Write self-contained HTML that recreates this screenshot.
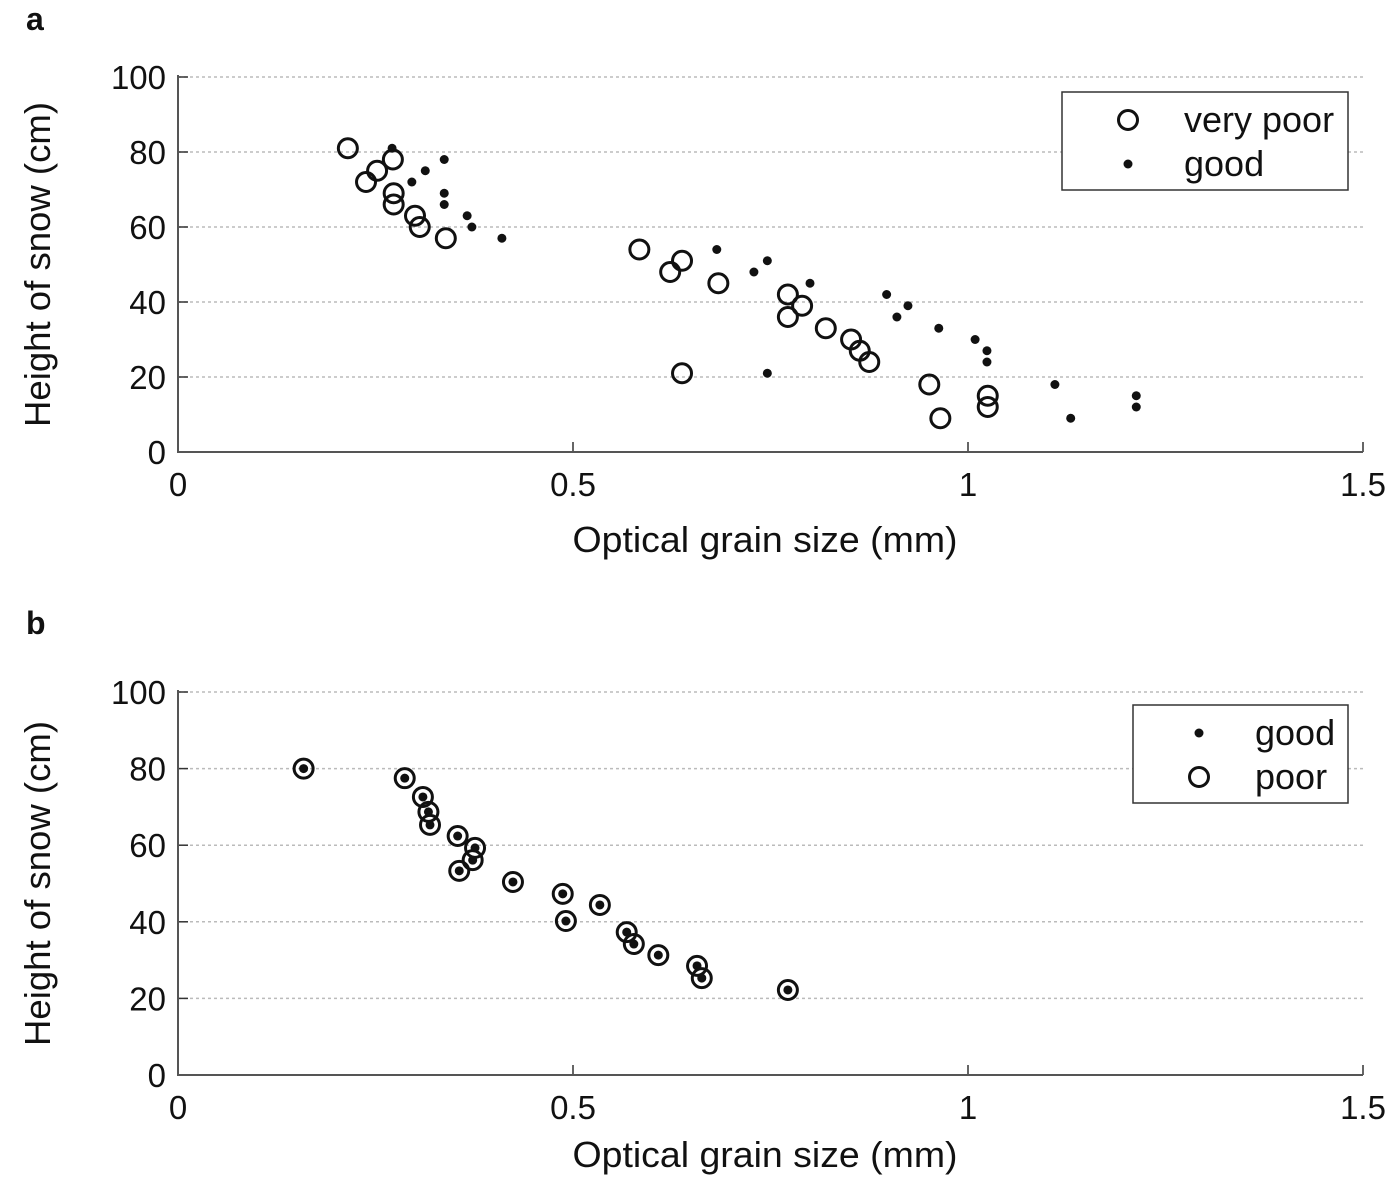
<!DOCTYPE html>
<html><head><meta charset="utf-8"><style>
body{margin:0;background:#fff;}
svg text{font-family:"Liberation Sans",sans-serif;fill:#111;}
</style></head><body>
<svg id="chart" width="1400" height="1183" viewBox="0 0 1400 1183" xmlns="http://www.w3.org/2000/svg"></svg>
<script>
const xTicks=[0,0.5,1,1.5];
const xTickLabels=["0","0.5","1","1.5"];
const yTicks=[0,20,40,60,80,100];
const yTickLabels=["0","20","40","60","80","100"];
const aPoorX=[0.215,0.238,0.252,0.272,0.273,0.273,0.300,0.306,0.339,0.584,0.623,0.638,0.684,0.772,0.790,0.772,0.820,0.852,0.863,0.875,0.638,0.951,0.965,1.025,1.025];
const aPoorY=[81,72,75,78,69,66,63,60,57,54,48,51,45,42,39,36,33,30,27,24,21,18,9,15,12];
const aGoodX=[0.271,0.337,0.313,0.296,0.337,0.337,0.366,0.372,0.410,0.682,0.746,0.729,0.800,0.897,0.924,0.910,0.963,1.009,1.024,1.024,0.746,1.110,1.130,1.213,1.213];
const aGoodY=[81,78,75,72,69,66,63,60,57,54,51,48,45,42,39,36,33,30,27,24,21,18,9,15,12];
const bX=[0.159,0.287,0.310,0.317,0.319,0.354,0.376,0.373,0.356,0.424,0.487,0.491,0.534,0.568,0.577,0.608,0.657,0.663,0.772];
const bY=[80,77.5,72.6,68.7,65.3,62.4,59.3,56.1,53.3,50.4,47.3,40.2,44.4,37.3,34.2,31.3,28.5,25.3,22.2];

const svg=document.getElementById('chart');
const NS='http://www.w3.org/2000/svg';
function mk(tag,attrs,parent,text){const e=document.createElementNS(NS,tag);for(const k in attrs)e.setAttribute(k,attrs[k]);if(text!==undefined)e.textContent=text;(parent||svg).appendChild(e);return e;}

function panel(id,top,bottom,letter,letterY,labelY){
  const left=178,right=1363;
  const g=mk('g',{});
  
  
  const xs=v=>left+(v/1.5)*(right-left);
  const ys=v=>bottom-(v/100)*(bottom-top);
  const pl=mk('text',{x:26,y:letterY,'font-size':32,'font-weight':'bold'},g,letter);
  
  
  yTicks.forEach((t,i)=>{
    if(t>0){const gl=mk('line',{x1:left,x2:right,y1:ys(t),y2:ys(t),stroke:'#bbb','stroke-width':1.5,'stroke-dasharray':'3,3'},g);
      
      }
    mk('line',{x1:left,x2:left+10,y1:ys(t),y2:ys(t),stroke:'#333','stroke-width':1.5},g);
    const tl=mk('text',{x:left-12,y:ys(t)+12,'font-size':33,'text-anchor':'end'},g,yTickLabels[i]);
    
    
  });
  xTicks.forEach((t,i)=>{
    mk('line',{x1:xs(t),x2:xs(t),y1:bottom,y2:bottom-10,stroke:'#333','stroke-width':1.5},g);
    const tl=mk('text',{x:xs(t),y:bottom+44,'font-size':33,'text-anchor':'middle'},g,xTickLabels[i]);
    
    
  });
  const ax=mk('path',{d:`M${left},${top-2}V${bottom}H${right}`,fill:'none',stroke:'#555','stroke-width':2},g);
  
  
  const xl=mk('text',{x:765,y:labelY,'font-size':36,'text-anchor':'middle',textLength:385,lengthAdjust:'spacingAndGlyphs'},g,'Optical grain size (mm)');
  
  
  const cy=(top+bottom)/2;
  const yl=mk('text',{x:50,y:cy,'font-size':36,'text-anchor':'middle',textLength:325,lengthAdjust:'spacingAndGlyphs',transform:`rotate(-90 50 ${cy})`},g,'Height of snow (cm)');
  
  
  return {g,xs,ys};
}
function circles(p,X,Y,name){X.forEach((x,i)=>{const c=mk('circle',{cx:p.xs(x),cy:p.ys(Y[i]),r:9.5,fill:'none',stroke:'#111','stroke-width':3},p.g);
  
  });}
function dots(p,X,Y,name){X.forEach((x,i)=>{const c=mk('circle',{cx:p.xs(x),cy:p.ys(Y[i]),r:4.5,fill:'#111'},p.g);
  
  });}
function legend(p,x,y,w,items){
  const lg=mk('g',{},p.g);
  
  
  mk('rect',{x:x,y:y,width:w,height:98,fill:'#fff',stroke:'#333','stroke-width':1.5},lg);
  items.forEach((it,i)=>{
    const cy=y+28+i*44;
    if(it[0]==='o')mk('circle',{cx:x+66,cy:cy,r:9.5,fill:'none',stroke:'#111','stroke-width':3},lg);
    else mk('circle',{cx:x+66,cy:cy,r:4.5,fill:'#111'},lg);
    const t=mk('text',{x:x+122,y:cy+12,'font-size':36},lg,it[1]);
    
    
  });
}
const pa=panel('a',77,452,'a',30,552);
circles(pa,aPoorX,aPoorY,'point-very-poor');
dots(pa,aGoodX,aGoodY,'point-good');
legend(pa,1062,92,286,[['o','very poor'],['.','good']]);
const pb=panel('b',692,1075,'b',634,1167);
circles(pb,bX,bY,'point-poor');
dots(pb,bX,bY,'point-good');
legend(pb,1133,705,215,[['.','good'],['o','poor']]);
</script>
</body></html>
